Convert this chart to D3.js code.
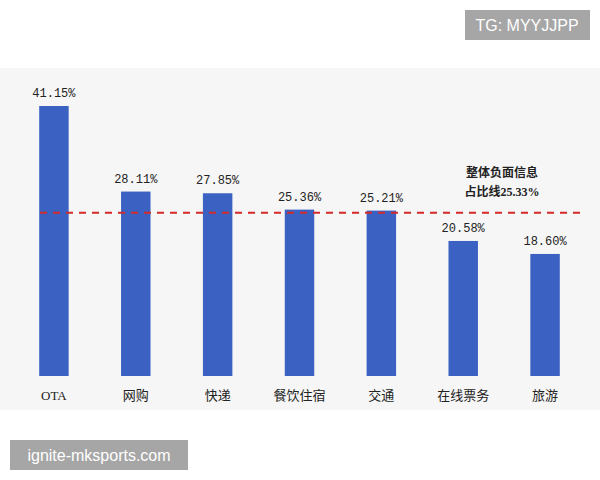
<!DOCTYPE html>
<html><head><meta charset="utf-8">
<script src="https://cdn.jsdelivr.net/npm/d3@7"></script>
<style>body{margin:0;background:#fff}</style>
</head><body>
<svg id="chart" width="600" height="480"></svg>
<script>
const categories = ["OTA", "网购", "快递", "餐饮住宿", "交通", "在线票务", "旅游"];
const values = [41.15, 28.11, 27.85, 25.36, 25.21, 20.58, 18.60];
const overall = 25.33;

const svg = d3.select("#chart");
const serif = "'Liberation Serif','Noto Sans CJK SC',serif";
const mono = "'Liberation Mono','DejaVu Sans Mono',monospace";

// gray plot panel
svg.append("rect").attr("x", 0).attr("y", 68).attr("width", 600).attr("height", 342).attr("fill", "#f6f6f6");

const x = d3.scaleBand().domain(categories).range([13, 586]).paddingInner(0.64).paddingOuter(0.32);
const y = d3.scaleLinear().domain([0, 41.15]).range([376, 106]);

svg.selectAll("rect.bar").data(values).join("rect")
  .attr("class", "bar")
  .attr("x", (d, i) => x(categories[i]))
  .attr("y", d => y(d))
  .attr("width", x.bandwidth())
  .attr("height", d => y(0) - y(d))
  .attr("fill", "#3b62c2");

svg.selectAll("text.val").data(values).join("text")
  .attr("class", "val")
  .attr("x", (d, i) => x(categories[i]) + x.bandwidth() / 2)
  .attr("y", d => y(d) - 9)
  .attr("text-anchor", "middle")
  .attr("font-family", mono).attr("font-size", 12).attr("fill", "#222")
  .text(d => d.toFixed(2) + "%");

svg.selectAll("text.cat").data(categories).join("text")
  .attr("class", "cat")
  .attr("x", d => x(d) + x.bandwidth() / 2)
  .attr("y", 400)
  .attr("text-anchor", "middle")
  .attr("font-family", serif).attr("font-size", 13).attr("fill", "#222")
  .text(d => d);

svg.append("line")
  .attr("x1", 40).attr("x2", 580)
  .attr("y1", y(overall) + 3).attr("y2", y(overall) + 3)
  .attr("stroke", "#d42a2a").attr("stroke-width", 2).attr("stroke-dasharray", "7,6");

const note = svg.append("text").attr("font-family", serif).attr("font-size", 12)
  .attr("font-weight", "bold").attr("fill", "#222").attr("text-anchor", "middle");
note.append("tspan").attr("x", 502).attr("y", 177).text("整体负面信息");
note.append("tspan").attr("x", 502).attr("y", 196).text("占比线25.33%");

// watermarks
svg.append("rect").attr("x", 465).attr("y", 10).attr("width", 125).attr("height", 30).attr("fill", "#a6a6a6");
svg.append("text").attr("x", 527).attr("y", 31).attr("text-anchor", "middle")
  .attr("font-family", "Liberation Sans, Arial").attr("font-size", 16).attr("fill", "#fff").text("TG: MYYJJPP");
svg.append("rect").attr("x", 10).attr("y", 440).attr("width", 178).attr("height", 30).attr("fill", "#a6a6a6");
svg.append("text").attr("x", 99).attr("y", 461).attr("text-anchor", "middle")
  .attr("font-family", "Liberation Sans, Arial").attr("font-size", 16).attr("fill", "#fff").text("ignite-mksports.com");
</script>
</body></html>
